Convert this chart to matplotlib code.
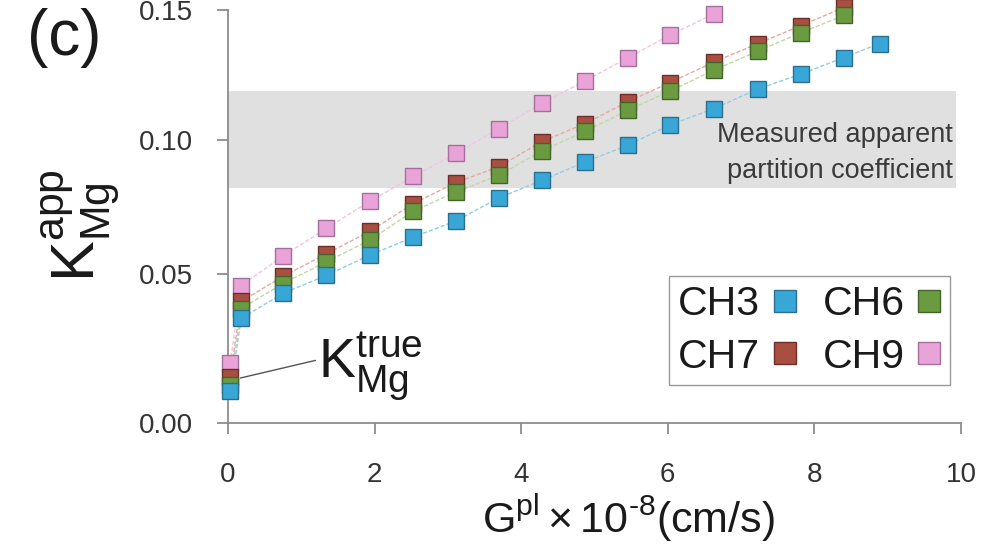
import numpy as np
import matplotlib
matplotlib.use('Agg')
import matplotlib.pyplot as plt
from matplotlib.lines import Line2D

plt.rcParams['font.family'] = ['Liberation Sans', 'DejaVu Sans']
plt.rcParams['mathtext.fontset'] = 'custom'
plt.rcParams['mathtext.rm'] = 'Liberation Sans'
plt.rcParams['mathtext.it'] = 'Liberation Sans'
plt.rcParams['mathtext.bf'] = 'Liberation Sans:bold'
plt.rcParams['mathtext.sf'] = 'Liberation Sans'
plt.rcParams['mathtext.default'] = 'regular'

# ---------------- data ----------------
g_pl = [0.03, 0.18, 0.75, 1.34, 1.94, 2.53, 3.11, 3.70, 4.28, 4.87,
        5.46, 6.03, 6.63, 7.23, 7.82, 8.40, 8.89]
k_ch3 = [0.0106, 0.0351, 0.0435, 0.0495, 0.0571, 0.0638, 0.0698, 0.0785, 0.0849,
         0.0918, 0.0981, 0.1058, 0.1121, 0.1196, 0.1254, 0.1317, 0.1371]
k_ch6 = [0.0126, 0.0384, 0.0468, 0.0545, 0.0627, 0.0735, 0.0806, 0.0869, 0.0959,
         0.1033, 0.1115, 0.1188, 0.1269, 0.1342, 0.1413, 0.1479]
k_ch7 = [0.0156, 0.0408, 0.0492, 0.0575, 0.0660, 0.0763, 0.0841, 0.0901, 0.0994,
         0.1063, 0.1148, 0.1221, 0.1300, 0.1371, 0.1440, 0.1510]
k_ch9 = [0.0200, 0.0461, 0.0567, 0.0670, 0.0772, 0.0864, 0.0950, 0.1044, 0.1142,
         0.1227, 0.1317, 0.1404, 0.1485]
series_names = ['CH3', 'CH6', 'CH7', 'CH9']
band_low, band_high = 0.082, 0.119
band_x = [0.0, 9.93]
ktrue_point = (0.17, 0.0151)
x_ticks = [0, 2, 4, 6, 8, 10]
y_ticks = [0.00, 0.05, 0.10, 0.15]
y_ticklabels = ['0.00', '0.05', '0.10', '0.15']

# ---------------- style ----------------
colors = {'CH3': '#38a6d6', 'CH6': '#6b9b40', 'CH7': '#a84f42', 'CH9': '#e9a3d9'}
edges = {'CH3': '#2a6f8e', 'CH6': '#44652a', 'CH7': '#6e2e28', 'CH9': '#a2709a'}
linecol = {'CH3': '#8ccde9', 'CH6': '#bfd99b', 'CH7': '#e8a8a0', 'CH9': '#f2c4e6'}
axcol = '#8c8c8c'

fig = plt.figure(figsize=(9.94, 5.55), dpi=100)
ax = fig.add_axes([228 / 994, 1 - 423 / 555, 733 / 994, 413 / 555])

# piecewise-linear y scale reproducing the reference's tick spacing
yk = np.array([-1.0, 0.0, 0.05, 0.10, 0.15, 1.15])
pk = np.array([-149 / 0.05, 0, 149, 283, 413, 413 + 130 / 0.05]) / 413.0


def fwd(v):
    return np.interp(np.asarray(v, float), yk, pk)


def inv(p):
    return np.interp(np.asarray(p, float), pk, yk)


ax.set_yscale('function', functions=(fwd, inv))
ax.set_xlim(0, 10)
ax.set_ylim(0, 0.15)

# measured band
ax.fill_between(band_x, band_low, band_high, color='#e0e0e0', lw=0, zorder=0)

data = {'CH3': k_ch3, 'CH6': k_ch6, 'CH7': k_ch7, 'CH9': k_ch9}
for name in series_names:
    vals = data[name]
    ax.plot(g_pl[:len(vals)], vals, color=linecol[name], lw=1.0,
            ls=(0, (3, 1.5)), zorder=1, clip_on=False)
order = ['CH9', 'CH7', 'CH6', 'CH3']
for i, name in enumerate(order):
    vals = data[name]
    ax.plot(g_pl[:len(vals)], vals, ls='none', marker='s', ms=12,
            mfc=colors[name], mec=edges[name], mew=1.0, zorder=3 + i, clip_on=False)

# axes styling
for s in ['top', 'right']:
    ax.spines[s].set_visible(False)
for s in ['left', 'bottom']:
    ax.spines[s].set_color(axcol)
    ax.spines[s].set_linewidth(1.3)
ax.set_xticks(x_ticks)
ax.set_yticks(y_ticks)
ax.set_yticklabels(y_ticklabels)
ax.tick_params(axis='both', color=axcol, width=1.3, length=8, labelsize=20,
               labelcolor='#333333')
ax.tick_params(axis='y', pad=17)
ax.tick_params(axis='x', pad=20)

# text
ax.text(9.89, 0.0950, 'Measured apparent\npartition coefficient', ha='right',
        va='center', fontsize=19.5, color='#3a3a3a', linespacing=1.5, zorder=2)

ax.annotate(r'$K^{true}_{Mg}$', xy=ktrue_point, xytext=(1.23, 0.0188),
            textcoords='data', fontsize=40, ha='left', va='center', color='#1a1a1a',
            arrowprops=dict(arrowstyle='-', color='#555555', lw=1.0,
                            shrinkA=0, shrinkB=0, relpos=(0, 0.6)),
            annotation_clip=False, zorder=8)

fig.text(81 / 994, 1 - 226 / 555, r'$K^{app}_{Mg}$', rotation=90, ha='center',
         va='center', fontsize=44, color='#1a1a1a')
fig.text(628 / 994, 1 - 518 / 555, r'$G^{pl}\times10^{\text{-}8}$(cm/s)', ha='center',
         va='center', fontsize=31, color='#1a1a1a')
fig.text(64 / 994, 1 - 38 / 555, '(c)', ha='center', va='center', fontsize=46,
         color='#1a1a1a')

# legend
handles = []
for name in ['CH3', 'CH7', 'CH6', 'CH9']:
    handles.append(Line2D([], [], ls='none', marker='s', ms=16, mfc=colors[name],
                          mec=edges[name], mew=1.0, label=name))
leg = ax.legend(handles=handles, ncol=2, markerfirst=False, loc='upper left',
                bbox_to_anchor=(669 / 994, 1 - 276 / 555), bbox_transform=fig.transFigure,
                fontsize=29.5, frameon=True, fancybox=False, framealpha=1,
                edgecolor='#999999', handlelength=0.6, handletextpad=0.3,
                columnspacing=0.62, borderpad=0.22, labelspacing=0.36,
                borderaxespad=0)
leg.get_frame().set_linewidth(1.0)
for t in leg.get_texts():
    t.set_color('#1a1a1a')

fig.savefig('out.png', dpi=100)
